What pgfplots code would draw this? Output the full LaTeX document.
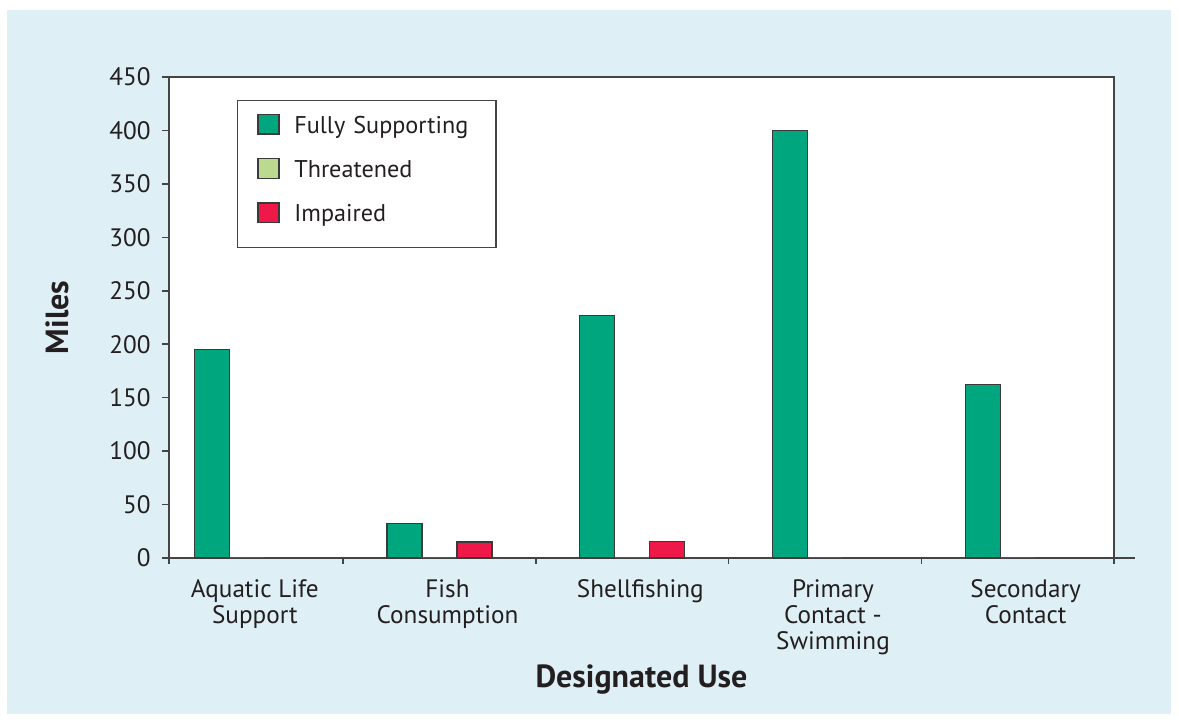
\documentclass[border=0pt]{standalone}
\usepackage{fontspec}
\setmainfont{PT Sans}
\usepackage{pgfplots}
\pgfplotsset{compat=1.18}

\definecolor{panel}{HTML}{DEEFF5}
\definecolor{fullgreen}{HTML}{00A67E}
\definecolor{threatgreen}{HTML}{BBD98F}
\definecolor{impairedred}{HTML}{EE1849}
\definecolor{edge}{HTML}{3A3A3A}
\definecolor{axisgray}{HTML}{444444}
\definecolor{ink}{HTML}{231F20}

\begin{document}
\begin{tikzpicture}[x=1pt,y=1pt]
% page and light blue panel
\fill[white] (0,0) rectangle (589.5,361);
\fill[panel] (3.5,4) rectangle (585.5,356);
\begin{axis}[
  at={(84.5pt,82pt)}, anchor=south west,
  scale only axis, width=472.5pt, height=240.5pt,
  axis background/.style={fill=white},
  xmin=-0.404, xmax=4.5, ymin=0, ymax=450,
  ybar=0pt, bar width=17.5pt,
  ytick={0,50,...,450},
  xtick={0,...,4},
  xticklabels={{Aquatic Life\\Support},{Fish\\Consumption},{Shellfishing},{Primary\\Contact -\\Swimming},{Secondary\\Contact}},
  tick pos=left,
  xtick style={draw=none},
  extra x ticks={-0.404,0.5,1.5,2.5,3.5,4.5},
  extra x tick labels={},
  extra x tick style={xtick style={draw=axisgray, line width=0.8pt}, major tick length=3pt},
  ytick style={draw=axisgray, line width=0.8pt},
  tick align=outside, major tick length=3.5pt,
  axis line style={draw=axisgray, line width=1pt},
  /pgf/number format/assume math mode=true,
  tick label style={font=\fontsize{12.6}{13}\selectfont, text=ink},
  yticklabel style={anchor=east, inner sep=0pt, xshift=-5.5pt},
  xticklabel style={align=center, anchor=north, inner sep=0pt, xshift=4pt, yshift=-7pt},
  xlabel={Designated Use},
  ylabel={Miles},
  label style={font=\bfseries\fontsize{16}{18}\selectfont, text=ink},
  xlabel style={at={(axis description cs:0.5,-0.252)}, anchor=center},
  ylabel style={at={(axis description cs:-0.1185,0.5)}, anchor=center},
  legend image code/.code={\draw[#1, draw=edge, line width=0.6pt] (0pt,-4.85pt) rectangle (10.5pt,4.85pt);},
  legend style={
    at={(axis description cs:0.072,0.952)}, anchor=north west,
    draw=axisgray, line width=0.7pt, fill=white,
    font=\fontsize{12.1}{14}\selectfont, text=ink,
    inner xsep=9.85pt, inner ysep=6.65pt,
    row sep=11.8pt, column sep=7.35pt,
    cells={anchor=west},
    nodes={inner sep=0pt, text height=8.8pt, text depth=0pt, text width=91pt},
  },
  clip=false,
]
\addplot[fill=fullgreen, draw=edge, line width=0.6pt] coordinates {
  (0,195) (1,32) (2,227) (3,400) (4,162)};
\addlegendentry{Fully Supporting}
\addplot[fill=threatgreen, draw=none] coordinates {
  (0,0) (1,0) (2,0) (3,0) (4,0)};
\addlegendentry{Threatened}
\addplot[fill=impairedred, draw=edge, line width=0.6pt,
  legend image code/.code={\draw[fill=impairedred, draw=edge, line width=0.6pt] (0pt,-4.85pt) rectangle (10.5pt,4.85pt); \path (0pt,-10.35pt);}] coordinates {
  (1,15) (2,15.5)};
\addlegendentry{Impaired}
% the category axis runs on a little past the plot frame
\draw[axisgray, line width=1pt] (rel axis cs:1,0) -- (rel axis cs:1.0222,0);
\end{axis}
\end{tikzpicture}
\end{document}
